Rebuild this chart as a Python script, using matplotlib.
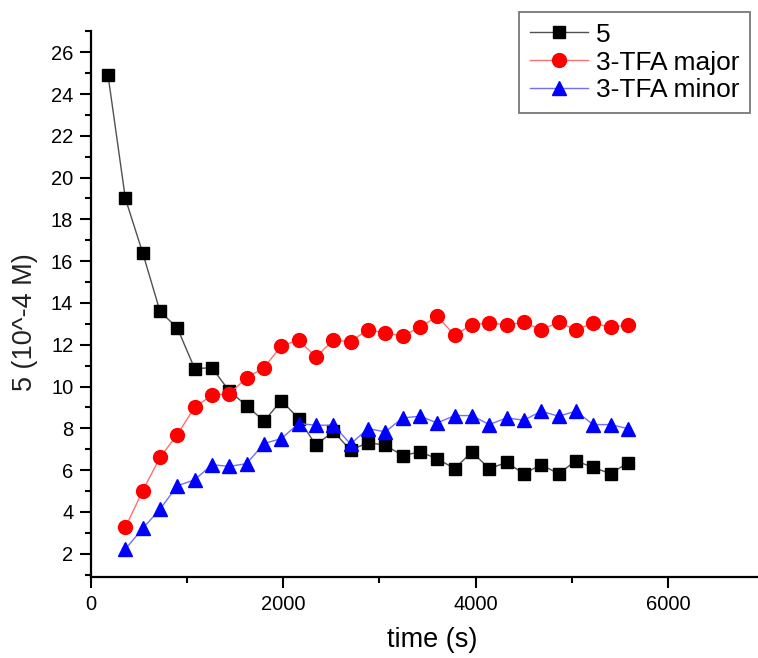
import matplotlib
matplotlib.use("Agg")
import matplotlib.pyplot as plt
from matplotlib.ticker import MultipleLocator, FixedLocator

# ---- data ----
time_5 = [180, 360, 540, 720, 900, 1080, 1260, 1440, 1620, 1800, 1980, 2160,
          2340, 2520, 2700, 2880, 3060, 3240, 3420, 3600, 3780, 3960, 4140,
          4320, 4500, 4680, 4860, 5040, 5220, 5400, 5580]
conc_5 = [24.9, 19.0, 16.4, 13.6, 12.8, 10.86, 10.9, 9.78, 9.09, 8.34, 9.33,
          8.47, 7.19, 7.86, 6.95, 7.32, 7.19, 6.7, 6.87, 6.55, 6.07, 6.87,
          6.07, 6.37, 5.83, 6.26, 5.83, 6.44, 6.13, 5.83, 6.35]

time_tfa = [360, 540, 720, 900, 1080, 1260, 1440, 1620, 1800, 1980, 2160,
            2340, 2520, 2700, 2880, 3060, 3240, 3420, 3600, 3780, 3960, 4140,
            4320, 4500, 4680, 4860, 5040, 5220, 5400, 5580]
tfa_major = [3.26, 5.01, 6.61, 7.70, 9.01, 9.59, 9.65, 10.42, 10.90, 11.95,
             12.22, 11.42, 12.22, 12.15, 12.73, 12.56, 12.43, 12.83, 13.36,
             12.46, 12.96, 13.04, 12.96, 13.07, 12.72, 13.07, 12.72, 13.04,
             12.83, 12.96]
tfa_minor = [2.22, 3.21, 4.13, 5.25, 5.54, 6.26, 6.18, 6.31, 7.27, 7.51, 8.23,
             8.15, 8.15, 7.25, 7.99, 7.83, 8.50, 8.58, 8.26, 8.61, 8.61, 8.18,
             8.50, 8.39, 8.82, 8.58, 8.82, 8.18, 8.18, 7.99]

series_labels = ["5", "3-TFA major", "3-TFA minor"]
x_label = "time (s)"
y_label = "5 (10^-4 M)"
x_ticks = [0, 2000, 4000, 6000]
y_ticks = [2, 4, 6, 8, 10, 12, 14, 16, 18, 20, 22, 24, 26]

plt.rcParams["font.family"] = ["Liberation Sans", "DejaVu Sans"]

fig = plt.figure(figsize=(7.58, 6.58), dpi=100)
W, H = 758, 658
left, right, top, bottom = 90.7, 758, 30.7, 576.7
ax = fig.add_axes([left / W, 1 - bottom / H, (right - left) / W, (bottom - top) / H])

ax.plot(time_5, conc_5, color="#505050", lw=1.0, marker="s", ms=8.5,
        mfc="black", mec="black", label=series_labels[0], zorder=3)
ax.plot(time_tfa, tfa_major, color="#ff7070", lw=1.0, marker="o", ms=10,
        mfc="#ff0000", mec="#ff0000", label=series_labels[1], zorder=4)
ax.plot(time_tfa, tfa_minor, color="#7070ff", lw=1.0, marker="^", ms=10.5,
        mfc="#0000ff", mec="#0000ff", label=series_labels[2], zorder=5)

ax.set_xlim(0, 6932)
ax.set_ylim(0.9, 27.03)

ax.xaxis.set_major_locator(FixedLocator(x_ticks))
ax.xaxis.set_minor_locator(MultipleLocator(1000))
ax.yaxis.set_major_locator(FixedLocator(y_ticks))
ax.yaxis.set_minor_locator(MultipleLocator(1))

for s in ["top", "right"]:
    ax.spines[s].set_visible(False)
for s in ["left", "bottom"]:
    ax.spines[s].set_linewidth(1.6)

ax.tick_params(axis="both", which="major", direction="out", length=8,
               width=1.5, labelsize=14.5, pad=4.5, colors="black")
ax.tick_params(axis="both", which="minor", direction="out", length=4,
               width=1.5)
ax.tick_params(axis="x", which="major", pad=5.5)

ax.set_xlabel(x_label, fontsize=19.5)
ax.set_ylabel(y_label, fontsize=19.5, color="#222222")
ax.xaxis.set_label_coords(0.511, -0.092)
ax.yaxis.set_label_coords(-0.079, 0.4665)

leg = ax.legend(loc="upper right", bbox_to_anchor=(750 / W, 1 - 12 / H),
                bbox_transform=fig.transFigure, fontsize=19, frameon=True,
                fancybox=False, edgecolor="#555555", handlelength=2.2,
                handletextpad=0.3, labelspacing=0.15, borderpad=0.4,
                borderaxespad=0)
leg.get_frame().set_linewidth(1.3)

fig.savefig("out.png", dpi=100)
